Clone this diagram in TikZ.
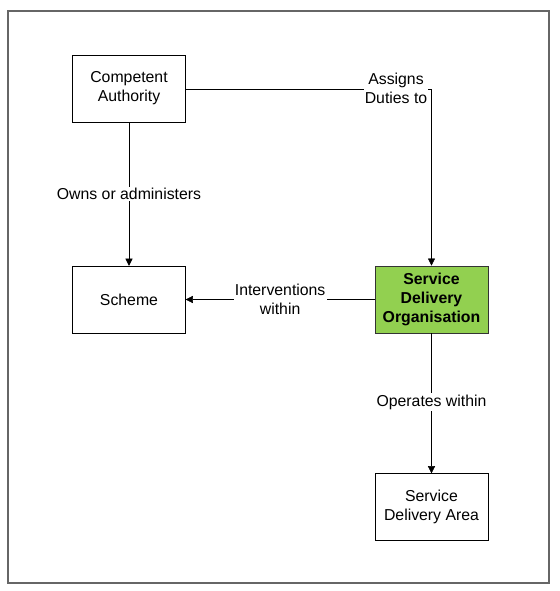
\documentclass[tikz,border=0pt]{standalone}
\usepackage{fontspec}
\setmainfont{Liberation Sans}
\usepackage{xcolor}
\usetikzlibrary{positioning, arrows.meta}

\definecolor{sdogreen}{HTML}{92D050}
\definecolor{framegray}{HTML}{666666}

\begin{document}
\begin{tikzpicture}[
    x=0.03cm, y=-0.03cm,
    entity/.style={draw, rectangle, minimum width=3.39cm, minimum height=2.01cm, align=center, font=\fontsize{13.5}{16.2}\selectfont},
    lead/.style={draw=black!80, fill=sdogreen, line width=0.8pt, font=\fontsize{13.5}{16.2}\selectfont\bfseries},
    rel/.style={-{Triangle[length=6pt, width=6pt]}},
    tag/.style={fill=white, align=center, inner sep=1pt, font=\fontsize{13.5}{16.2}\selectfont},
]
\useasboundingbox (0,0) rectangle (559,591);
\draw[framegray, line width=1.2pt] (8,11) rectangle (549,583);

\node[entity] (ca) at (129, 88.5) {Competent\\Authority};
\node[entity] (scheme) at (129, 299.5) {Scheme};
\node[entity, lead] (sdo) at (431.5, 299.5) {Service\\Delivery\\Organisation};
\node[entity] (sda) at (431.5, 507) {Service\\Delivery Area};
\coordinate (bend) at (431.5, 89);

\draw[rel] (ca.east |- bend) -- (bend) -- (sdo.north);
\node[tag] at (396, 88) {Assigns\\Duties to};
\draw[rel] (ca) -- node[tag] {Owns or administers} (scheme);
\draw[rel] (sdo) -- node[tag, pos=0.5] {Interventions\\within} (scheme);
\draw[rel] (sdo) -- node[tag, pos=0.49] {Operates within} (sda);
\end{tikzpicture}
\end{document}
